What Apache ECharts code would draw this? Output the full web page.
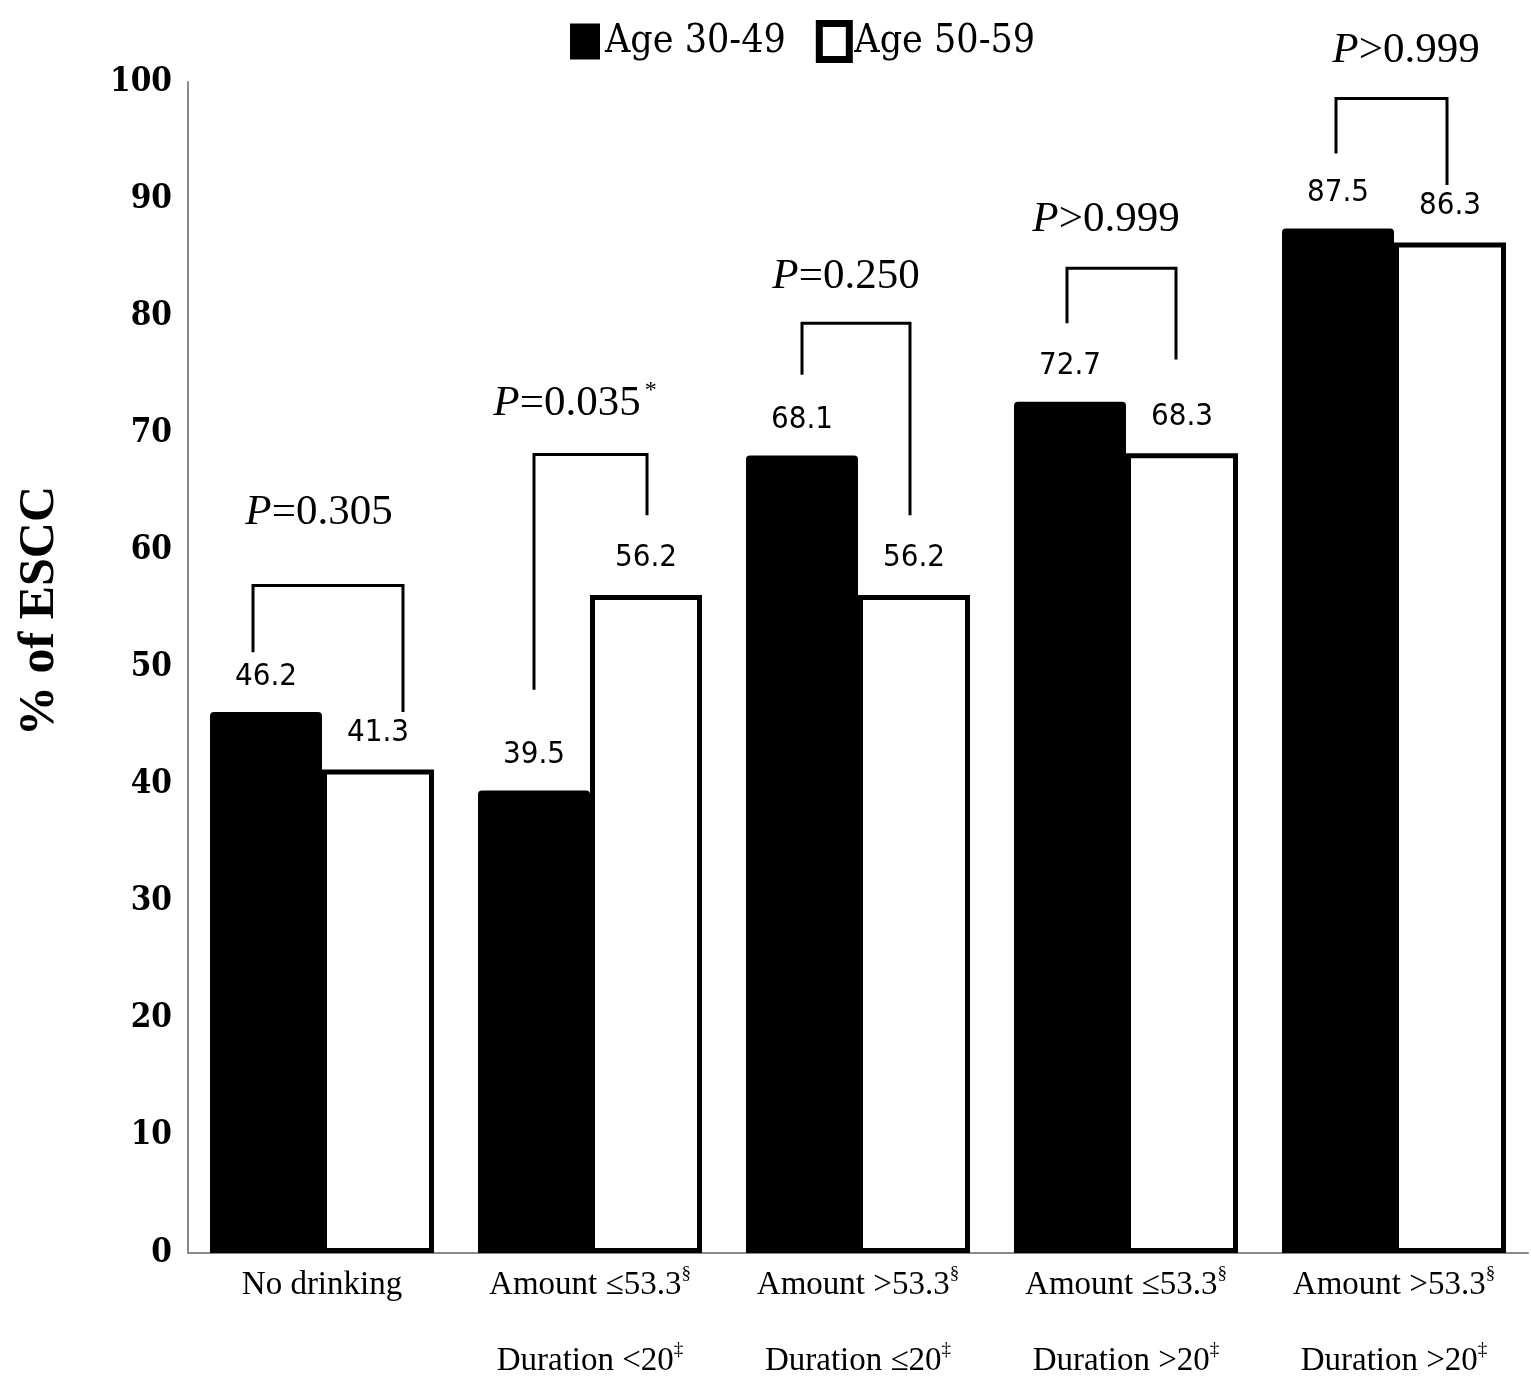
<!DOCTYPE html>
<html><head><meta charset="utf-8">
<script src="https://cdn.jsdelivr.net/npm/echarts@6/dist/echarts.min.js"></script>
<style>html,body{margin:0;padding:0;background:#fff}#c{width:1531px;height:1390px}</style>
</head><body><div id="c"></div>
<script>
// ---- data ----
var catLine1 = ['No drinking', 'Amount \u226453.3', 'Amount >53.3', 'Amount \u226453.3', 'Amount >53.3'];
var catLine2 = ['', 'Duration <20', 'Duration \u226420', 'Duration >20', 'Duration >20'];
var seriesNames = ['Age 30-49', 'Age 50-59'];
var age3049 = [46.2, 39.5, 68.1, 72.7, 87.5];
var age5059 = [41.3, 56.2, 56.2, 68.3, 86.3];
var pRelation = ['=', '=', '=', '>', '>'];
var pValues = ['0.305', '0.035', '0.250', '0.999', '0.999'];
var pSignificant = [false, true, false, false, false];
var bracketTop = [57.0, 68.2, 79.4, 84.1, 98.6];
var bracketLeftEnd = [51.3, 48.1, 75.0, 79.4, 93.9];
var bracketRightEnd = [46.2, 63.0, 63.0, 76.3, 91.2];
var pLabelLevel = [63.2, 72.5, 83.4, 88.2, 102.7];
var yTicks = [0, 10, 20, 30, 40, 50, 60, 70, 80, 90, 100];
var yAxisTitle = '% of ESCC';

// ---- style-only offsets (pixels) ----
var pTextDx = [-3, -15, -12, -20, 12];
var legLeftDx = [-13, 0, 0, -3, -2];
var legRightDx = [25, 1, -4, -6, -3];

var BAR_W = 112;

var annotationData = age3049.map(function (v, i) {
  return [i, bracketTop[i], bracketLeftEnd[i], bracketRightEnd[i], pLabelLevel[i]];
});

var chart = echarts.init(document.getElementById('c'));
var serif = '"Liberation Serif", "Times New Roman", serif';
var valFont = '"DejaVu Sans Condensed", "Liberation Sans Narrow", sans-serif';

chart.setOption({
  animation: false,
  backgroundColor: '#fff',
  legend: {
    top: 15, left: 565,
    itemWidth: 30, itemHeight: 36, itemGap: 30,
    textStyle: { fontFamily: '"DejaVu Serif Condensed", "DejaVu Serif", serif', fontSize: 39, color: '#000' },
    data: [
      { name: seriesNames[0], icon: 'rect', itemStyle: { color: '#000', borderWidth: 0 } },
      { name: seriesNames[1], icon: 'rect', itemStyle: { color: '#fff', borderColor: '#000', borderWidth: 7 } }
    ]
  },
  graphic: [{
    type: 'text', x: 40, y: 611, rotation: Math.PI / 2,
    style: { text: yAxisTitle, fontFamily: serif, fontWeight: 'bold', fontSize: 50, fill: '#000', align: 'center', verticalAlign: 'middle' }
  }],
  grid: { left: 188, right: 3, top: 82, bottom: 137 },
  xAxis: {
    type: 'category',
    data: catLine1,
    axisLine: { lineStyle: { color: '#8a8a8a', width: 2 } },
    axisTick: { show: false },
    axisLabel: {
      margin: 12,
      interval: 0,
      formatter: function (v, i) {
        var s = '{a|' + catLine1[i] + '}';
        if (i > 0) s += '{sa|\u00a7}';
        if (catLine2[i]) s += '\n{b|' + catLine2[i] + '}{sb|\u2021}';
        return s;
      },
      rich: {
        a: { fontFamily: serif, fontSize: 33, color: '#000', lineHeight: 40 },
        sa: { fontFamily: serif, fontSize: 19, color: '#000', lineHeight: 40, padding: [0, 0, 22, 0] },
        b: { fontFamily: serif, fontSize: 33, color: '#000', lineHeight: 112 },
        sb: { fontFamily: serif, fontSize: 19, color: '#000', lineHeight: 112, padding: [0, 0, 22, 0] }
      }
    }
  },
  yAxis: {
    type: 'value', min: yTicks[0], max: yTicks[yTicks.length - 1], interval: yTicks[1] - yTicks[0],
    axisLine: { show: true, lineStyle: { color: '#8a8a8a', width: 2 } },
    axisTick: { show: false },
    splitLine: { show: false },
    axisLabel: { margin: 16, fontFamily: '"DejaVu Serif Condensed", "DejaVu Serif", serif', fontWeight: 'bold', fontSize: 33, color: '#000' }
  },
  series: [
    {
      name: seriesNames[0], type: 'bar', data: age3049, barWidth: BAR_W, barGap: '0%',
      itemStyle: { color: '#000', borderRadius: [4, 4, 0, 0] },
      label: { show: true, position: 'top', distance: 20, fontFamily: valFont, fontSize: 31, color: '#000' }
    },
    {
      name: seriesNames[1], type: 'bar', data: age5059, barWidth: BAR_W, barGap: '0%',
      itemStyle: { color: '#fff', borderColor: '#000', borderWidth: 5 },
      label: { show: true, position: 'top', distance: 21, fontFamily: valFont, fontSize: 31, color: '#000' }
    },
    {
      type: 'custom', z: 10, clip: false, silent: true,
      data: annotationData,
      encode: { x: 0, y: 1 },
      renderItem: function (params, api) {
        var i = api.value(0);
        var c = api.coord([i, api.value(1)]);
        var half = BAR_W / 2;
        var xl = c[0] - half + legLeftDx[i];
        var xr = c[0] + half + legRightDx[i];
        var yTop = c[1];
        var yL = api.coord([i, api.value(2)])[1];
        var yR = api.coord([i, api.value(3)])[1];
        var tc = api.coord([i, api.value(4)]);
        var txt = '{i|P}{n|' + pRelation[i] + pValues[i] + '}' + (pSignificant[i] ? '{s|*}' : '');
        return {
          type: 'group',
          children: [
            { type: 'polyline', shape: { points: [[xl, yL], [xl, yTop], [xr, yTop], [xr, yR]] },
              style: { stroke: '#000', lineWidth: 3, fill: null } },
            { type: 'text', x: tc[0] + pTextDx[i], y: tc[1],
              style: {
                text: txt, align: 'center', verticalAlign: 'middle',
                rich: {
                  i: { fontFamily: serif, fontStyle: 'italic', fontSize: 43, fill: '#000' },
                  n: { fontFamily: serif, fontSize: 43, fill: '#000' },
                  s: { fontFamily: serif, fontSize: 24, fill: '#000', padding: [0, 0, 26, 4] }
                }
              } }
          ]
        };
      }
    }
  ]
});
</script></body></html>
